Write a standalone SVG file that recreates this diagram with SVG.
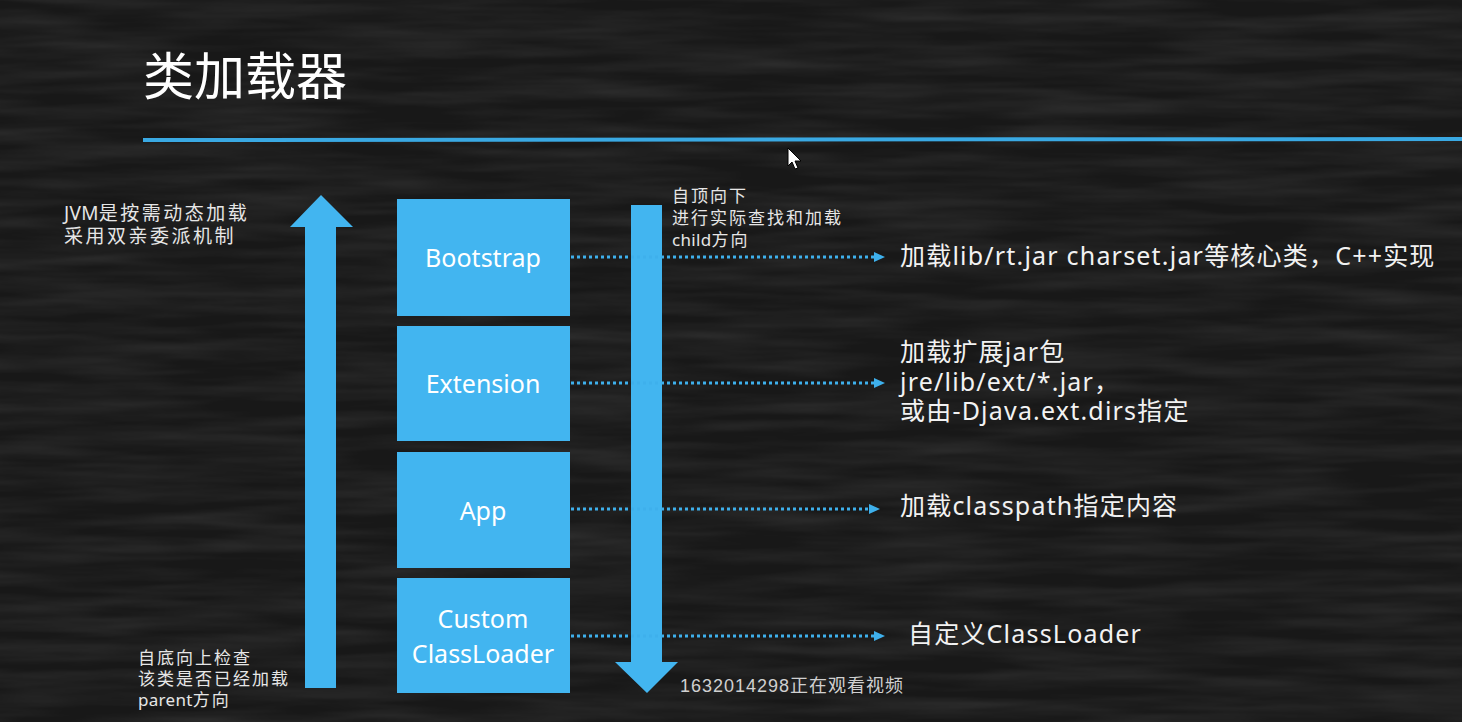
<svg xmlns="http://www.w3.org/2000/svg" width="1462" height="722" viewBox="0 0 1462 722">
<defs>
<filter id="chalk" x="0" y="0" width="100%" height="100%">
<feTurbulence type="fractalNoise" baseFrequency="0.006 0.07" numOctaves="3" seed="7" result="n"/>
<feColorMatrix type="matrix" values="0 0 0 0 1  0 0 0 0 1  0 0 0 0 1  0 0 0 0.14 -0.045" in="n"/>
</filter>
<marker id="tri" markerWidth="12" markerHeight="12" refX="2" refY="6" orient="auto" markerUnits="userSpaceOnUse">
<path d="M0,1 L11,6 L0,11 Z" fill="#3eb0ec"/>
</marker>
<style>
.box{fill:#42b5f0;}
.arr{fill:#42b5f0;}
.lbl{fill:#ffffff;font-family:"Noto Sans","Open Sans","Noto Sans CJK SC",sans-serif;font-size:25px;text-anchor:middle;}
.desc{fill:#f2f2f2;font-family:"Noto Sans","Noto Sans CJK SC",sans-serif;font-size:25px;letter-spacing:1.2px;}
.note{fill:#e6e6e6;font-family:"Noto Sans","Noto Sans CJK SC",sans-serif;font-size:17px;letter-spacing:2px;}
.note2{fill:#e6e6e6;font-family:"Noto Sans","Noto Sans CJK SC",sans-serif;font-size:19px;letter-spacing:2.5px;}
.lat{letter-spacing:0.3px;}
.dot{stroke:#3eb0ec;stroke-width:3;stroke-dasharray:3 3;fill:none;}
</style>
</defs>
<rect width="1462" height="722" fill="#181818"/>
<rect width="1462" height="722" filter="url(#chalk)"/>

<text x="143" y="95" fill="#ffffff" font-family="'Noto Sans CJK SC',sans-serif" font-size="51">类加载器</text>
<path d="M143,140 L1462,139" stroke="#3aa9e3" stroke-width="4" fill="none"/>
<path d="M788,148 L788,166 L792,162 L795,169 L798,168 L795,161 L801,161 Z" fill="#ffffff" stroke="#000000" stroke-width="1"/>

<g id="note-left-top">
<text class="note2" x="64" y="220"><tspan class="lat">JVM</tspan>是按需动态加载</text>
<text class="note2" x="64" y="243">采用双亲委派机制</text>
</g>
<g id="note-left-bottom">
<text class="note" x="138" y="664">自底向上检查</text>
<text class="note" x="138" y="685">该类是否已经加载</text>
<text class="note" x="138" y="706"><tspan class="lat">parent</tspan>方向</text>
</g>
<g id="note-right-top">
<text class="note" x="672" y="202">自顶向下</text>
<text class="note" x="672" y="224">进行实际查找和加载</text>
<text class="note" x="672" y="246"><tspan class="lat">child</tspan>方向</text>
</g>

<g id="up-arrow">
<path class="arr" d="M305,688 L305,227 L290,227 L321,195 L353,227 L336,227 L336,688 Z"/>
</g>
<g id="down-arrow">
<path class="arr" d="M631,205 L662,205 L662,662 L678,662 L647,693 L615,662 L631,662 Z"/>
</g>

<g id="bootstrap">
<rect class="box" x="397" y="199" width="173" height="117"/>
<text class="lbl" x="483" y="267">Bootstrap</text>
</g>
<g id="extension">
<rect class="box" x="397" y="326" width="173" height="115"/>
<text class="lbl" x="483" y="393">Extension</text>
</g>
<g id="app">
<rect class="box" x="397" y="452" width="173" height="116"/>
<text class="lbl" x="483" y="520">App</text>
</g>
<g id="custom">
<rect class="box" x="397" y="578" width="173" height="115"/>
<text class="lbl" x="483" y="628">Custom</text>
<text class="lbl" x="483" y="663">ClassLoader</text>
</g>

<g id="connectors">
<line class="dot" x1="571" y1="257" x2="876" y2="257" marker-end="url(#tri)"/>
<line class="dot" x1="571" y1="383" x2="876" y2="383" marker-end="url(#tri)"/>
<line class="dot" x1="571" y1="509" x2="871" y2="509" marker-end="url(#tri)"/>
<line class="dot" x1="571" y1="636" x2="876" y2="636" marker-end="url(#tri)"/>
</g>

<g id="desc-bootstrap">
<text class="desc" x="900" y="265">加载lib/rt.jar charset.jar等核心类，C++实现</text>
</g>
<g id="desc-extension">
<text class="desc" x="900" y="361">加载扩展jar包</text>
<text class="desc" x="900" y="391">jre/lib/ext/*.jar，</text>
<text class="desc" x="900" y="420">或由-Djava.ext.dirs指定</text>
</g>
<g id="desc-app">
<text class="desc" x="900" y="515">加载classpath指定内容</text>
</g>
<g id="desc-custom">
<text class="desc" x="908" y="643">自定义ClassLoader</text>
</g>

<text x="680" y="692" fill="#d0d0d0" font-family="'Liberation Sans','Noto Sans CJK SC',sans-serif" font-size="18" letter-spacing="1">1632014298正在观看视频</text>
</svg>
